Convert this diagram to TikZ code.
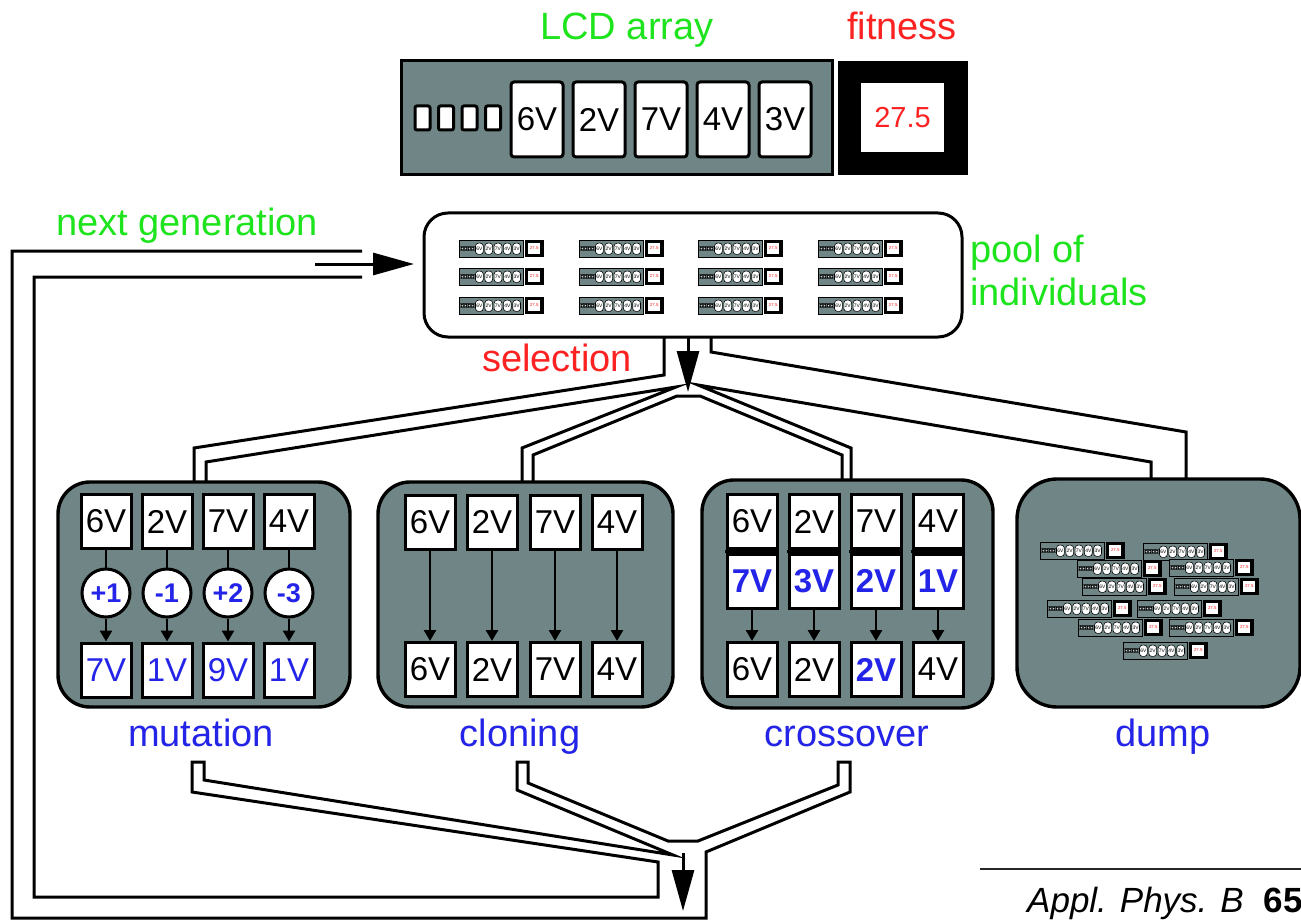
\documentclass[tikz,border=0pt]{standalone}
\usepackage{fontspec}
\setmainfont{Liberation Sans}
\usetikzlibrary{arrows.meta}

\definecolor{lcdgray}{RGB}{112,134,134}
\definecolor{lblgreen}{RGB}{30,228,30}
\definecolor{lblred}{RGB}{252,34,34}
\definecolor{lblblue}{RGB}{36,36,232}

\tikzset{
  lbl/.style={font=\fontsize{38}{40}\selectfont, inner sep=0pt},
  pipe/.style={line width=3pt, line join=miter, line cap=butt},
  bigarrow/.style={line width=3pt, -{Triangle[length=41pt,width=22pt]}},
  groupbox/.style={draw, fill=lcdgray, line width=3.4pt, rounded corners=32pt, inner sep=0pt},
  cell/.style={draw, fill=white, line width=3pt, minimum width=50pt, minimum height=54pt, inner sep=0pt, font=\fontsize{33}{33}\selectfont},
  bluecell/.style={cell, text=lblblue},
  boldcell/.style={cell, text=lblblue, font=\bfseries\fontsize{33}{33}\selectfont},
  opcircle/.style={circle, draw, fill=white, line width=3pt, minimum size=48pt, inner sep=0pt, text=lblblue, font=\bfseries\fontsize{27}{27}\selectfont},
  wire/.style={line width=2.6pt},
  wirearrow/.style={line width=2.6pt, -{Triangle[length=11pt,width=12pt]}},
  lcdpanel/.style={draw, fill=lcdgray, minimum width=431pt, minimum height=114pt, inner sep=0pt, transform shape},
  lcdslot/.style={draw, fill=white, rounded corners=2pt, minimum width=15pt, minimum height=24pt, inner sep=0pt, transform shape},
  lcdgene/.style={draw, fill=white, rounded corners=3pt, minimum width=52pt, minimum height=75pt, inner sep=0pt, font=\fontsize{33}{33}\selectfont, transform shape},
  lcdfitframe/.style={fill=black, minimum width=130pt, minimum height=114pt, inner sep=0pt, transform shape},
  lcdfitvalue/.style={fill=white, minimum width=83pt, minimum height=69pt, inner sep=0pt, text=lblred, font=\fontsize{29}{29}\selectfont, transform shape}
}

% one LCD array with its fitness display, origin at the panel's top left corner
\newcommand{\lcdunit}[2]{%
  \node[lcdpanel, line width=#2] (#1-panel) at (215.5,57) {};
  \foreach \sx [count=\sk] in {21.5,45,68.5,92}
    \node[lcdslot, line width=#2] (#1-slot\sk) at (\sx,57) {};
  \foreach \gx/\gval [count=\gk] in {136/6V,198/2V,260/7V,322/4V,384/3V}
    \node[lcdgene, line width=#2] (#1-gene\gk) at (\gx,58.5) {\gval};
  \node[lcdfitframe] (#1-fitframe) at (502,57) {};
  \node[lcdfitvalue] (#1-fitvalue) at (501.5,56.5) {27.5};
}
\newcommand{\minilcd}[3]{%
  \begin{scope}[shift={(#2,#3)}, scale=0.15]
    \lcdunit{#1}{0.6pt}
  \end{scope}
}

\begin{document}
\begin{tikzpicture}[x=1pt,y=-1pt]
\fill[white] (0,0) rectangle (1301,920);
\useasboundingbox (0,0) rectangle (1301,920);

% ---- individual: LCD array and fitness
\node[lbl, text=lblgreen, anchor=base] (lcdtitle) at (627,40) {LCD array};
\node[lbl, text=lblred, anchor=base] (fittitle) at (902,40) {fitness};
\begin{scope}[shift={(401,61)}]
  \lcdunit{lcd}{3pt}
\end{scope}

% ---- return pipe (next generation)
\draw[pipe] (362,277) -- (34,277) -- (34,897) -- (658,897) -- (658,862)
  -- (192,792) -- (192,762) -- (204,762) -- (204,780) -- (673,855)
  -- (517,790) -- (517,762) -- (528,762) -- (528,783) -- (668,841)
  -- (698,841) -- (838,785) -- (838,762) -- (850,762) -- (850,792)
  -- (706,852) -- (706,918) -- (12,918) -- (12,251) -- (362,251);

% ---- selection pipes
\draw[pipe] (664,337) -- (664,375) -- (194,448) -- (194,485);
\draw[pipe] (206,485) -- (206,462) -- (676,387) -- (522,448) -- (522,485);
\draw[pipe] (533,485) -- (533,455) -- (677,396) -- (700,396) -- (842,455) -- (842,485);
\draw[pipe] (851,485) -- (851,448) -- (698,385) -- (1151,462) -- (1151,485);
\draw[pipe] (1186,485) -- (1186,432) -- (711,352) -- (711,337);

\coordinate (ngfrom) at (315,264);
\coordinate (ngto) at (414,264);
\draw[bigarrow] (ngfrom) -- (ngto);
\coordinate (selfrom) at (688,338);
\coordinate (selto) at (688,392);
\draw[bigarrow] (selfrom) -- (selto);
\coordinate (retfrom) at (683,853);
\coordinate (retto) at (683,911);
\draw[bigarrow] (retfrom) -- (retto);

% ---- pool of individuals
\node[draw, fill=white, line width=3pt, rounded corners=24pt, minimum width=538pt, minimum height=124pt, inner sep=0pt] (pool) at (693,275) {};
\foreach \mc [count=\ci] in {459,579,698,818}
  \foreach \mr [count=\ri] in {240,268,297}
    {\minilcd{pool\ci\ri}{\mc}{\mr}}

\node[lbl, text=lblgreen, anchor=base west] (nglabel) at (56,236) {next generation};
\node[lbl, text=lblgreen, anchor=base west] (poollabel) at (970,262) {pool of};
\node[lbl, text=lblgreen, anchor=base west] (poollabelb) at (970,305) {individuals};
\node[lbl, text=lblred, anchor=base] (sellabel) at (557,371) {selection};

% ---- mutation
\node[groupbox, minimum width=292pt, minimum height=225pt] (mutbox) at (204,594.5) {};
\foreach \cx/\ctop/\cop/\cbot [count=\k] in {106/6V/+1/7V, 167/2V/-1/1V, 228/7V/+2/9V, 289/4V/-3/1V} {
  \node[cell] (mt\k) at (\cx,521.5) {\ctop};
  \node[opcircle] (mo\k) at (\cx,593) {\cop};
  \node[bluecell] (mb\k) at (\cx,670) {\cbot};
  \draw[wire] (mt\k) -- (mo\k);
  \draw[wirearrow] (mo\k) -- (mb\k);
}
\node[lbl, text=lblblue, anchor=base] (mutlabel) at (201,746) {mutation};

% ---- cloning
\node[groupbox, minimum width=295pt, minimum height=225pt] (clonebox) at (525.5,594.5) {};
\foreach \cx/\ctop [count=\k] in {430/6V, 492/2V, 555/7V, 617/4V} {
  \node[cell] (ct\k) at (\cx,522) {\ctop};
  \node[cell] (cb\k) at (\cx,669.5) {\ctop};
  \draw[wirearrow] (ct\k) -- (cb\k);
}
\node[lbl, text=lblblue, anchor=base] (clonelabel) at (520,746) {cloning};

% ---- crossover
\node[groupbox, minimum width=291pt, minimum height=228pt] (crossbox) at (847.5,594) {};
\foreach \cx/\ctop/\cmid/\cbot/\cst [count=\k] in {752/6V/7V/6V/cell, 814/2V/3V/2V/cell, 876/7V/2V/2V/boldcell, 938/4V/1V/4V/cell} {
  \node[cell] (xt\k) at (\cx,521.5) {\ctop};
  \node[boldcell] (xm\k) at (\cx,581) {\cmid};
  \fill ([xshift=-0.8pt]xt\k.south west) rectangle ([xshift=0.8pt]xm\k.north east);
  \node[\cst] (xb\k) at (\cx,669.5) {\cbot};
  \draw[wirearrow] (xm\k) -- (xb\k);
}
\node[lbl, text=lblblue, anchor=base] (crosslabel) at (847,746) {crossover};

% ---- dump
\node[groupbox, rounded corners=40pt, minimum width=283pt, minimum height=228pt] (dumpbox) at (1158.5,593) {};
\foreach \dx/\dy [count=\dk] in {1040/542, 1143/543, 1077/560, 1169/559, 1082/578, 1174/578, 1047/600, 1137/600, 1078/619, 1169/619, 1123/642}
  {\minilcd{dump\dk}{\dx}{\dy}}
\node[lbl, text=lblblue, anchor=base] (dumplabel) at (1163,746) {dump};

% ---- citation line
\coordinate (rulefrom) at (980,869);
\coordinate (ruleto) at (1310,869);
\draw[line width=2pt, black!85] (rulefrom) -- (ruleto);
\node[anchor=base west, inner sep=0pt, font=\fontsize{35}{35}\selectfont] (citation) at (1027,912) {\itshape Appl. Phys. B\hspace{20pt}\upshape\bfseries 65};
\end{tikzpicture}
\end{document}
